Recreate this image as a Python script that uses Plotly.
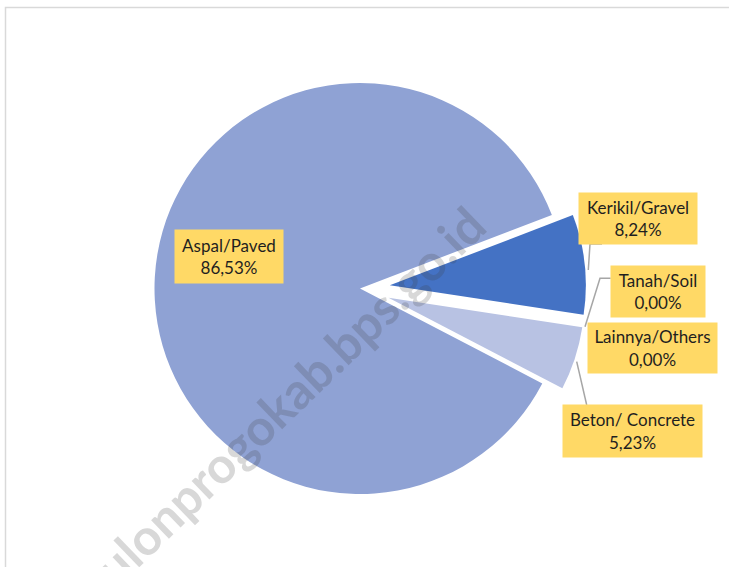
import plotly.graph_objects as go

# road surface shares (%)
labels = ['Aspal/Paved', 'Kerikil/Gravel', 'Tanah/Soil', 'Lainnya/Others', 'Beton/ Concrete']
values = [86.53, 8.24, 0.00, 0.00, 5.23]
colors = ['#8FA2D4', '#4472C4', '#A5A5A5', '#FFC000', '#B8C2E3']
pulls = [0, 0.153, 0, 0, 0.153]

W, H = 729, 567
CLEAR = 'rgba(0,0,0,0)'


def px(x):
    return x / W


def py(y):
    return 1 - y / H


def box(cx, cy, half):
    return dict(x=[px(cx - half), px(cx + half)], y=[py(cy + half), py(cy - half)])


# the big slice sits on its own, the exploded ones are drawn a bit smaller
fig = go.Figure()
fig.add_trace(go.Pie(
    labels=labels, values=values, sort=False, direction='clockwise',
    rotation=117.5,
    marker=dict(colors=[colors[0]] + [CLEAR] * 4, line=dict(width=0)),
    textinfo='none', hoverinfo='label+percent',
    domain=box(360, 288.5, 205.5),
))
fig.add_trace(go.Pie(
    labels=labels, values=values, sort=False, direction='clockwise',
    rotation=117.5, pull=pulls,
    marker=dict(colors=[CLEAR] + colors[1:], line=dict(width=0)),
    textinfo='none', hoverinfo='label+percent',
    domain=box(360, 288.5, 226),
))

# label boxes: centre (px), width, height
boxes = [
    (229, 256.5, 108, 53),
    (638, 218, 118, 51),
    (658, 291.5, 94, 51),
    (652.5, 348, 129, 50),
    (632.5, 431, 139, 52),
]

annotations = []
for lab, val, (cx, cy, bw, bh) in zip(labels, values, boxes):
    txt = lab + '<br>' + f'{val:.2f}'.replace('.', ',') + '%'
    annotations.append(dict(
        x=px(cx), y=py(cy), xref='paper', yref='paper',
        xanchor='center', yanchor='middle',
        text=txt, showarrow=False, align='center',
        width=bw, height=bh, bgcolor='#FFD966', borderpad=0,
        font=dict(family='Lato', size=17, color='#1F1F1F'),
    ))

# watermark (runs off the bottom edge, as in the source)
annotations.append(dict(
    x=px(280), y=py(405), xref='paper', yref='paper',
    xanchor='center', yanchor='middle',
    text='<b>kulonprogokab.bps.go.id</b>', showarrow=False, textangle=-44,
    font=dict(family='Lato', size=50, color='rgba(60,60,60,0.2)'),
))

# leader lines
leaders = [
    [(602, 244), (590, 244), (588.3, 270)],
    [(610.7, 278.3), (600, 278.3), (585, 326.7)],
    [(586.7, 405), (576.7, 361.7)],
]
shapes = []
for pts in leaders:
    path = 'M ' + ' L '.join(f'{px(x)},{py(y)}' for x, y in pts)
    shapes.append(dict(type='path', xref='paper', yref='paper', path=path,
                       line=dict(color='#A6A6A6', width=1.5)))

# chart frame
shapes.append(dict(type='rect', xref='paper', yref='paper',
                   x0=px(5.5), y0=py(600), x1=px(760), y1=py(7.5),
                   line=dict(color='#D9D9D9', width=1.5), layer='below'))

fig.update_layout(
    width=W, height=H,
    margin=dict(l=0, r=0, t=0, b=0),
    paper_bgcolor='white',
    showlegend=False,
    annotations=annotations,
    shapes=shapes,
)

fig.write_html('out.html', config={'displayModeBar': False},
               post_script="document.body.style.margin='0';")
